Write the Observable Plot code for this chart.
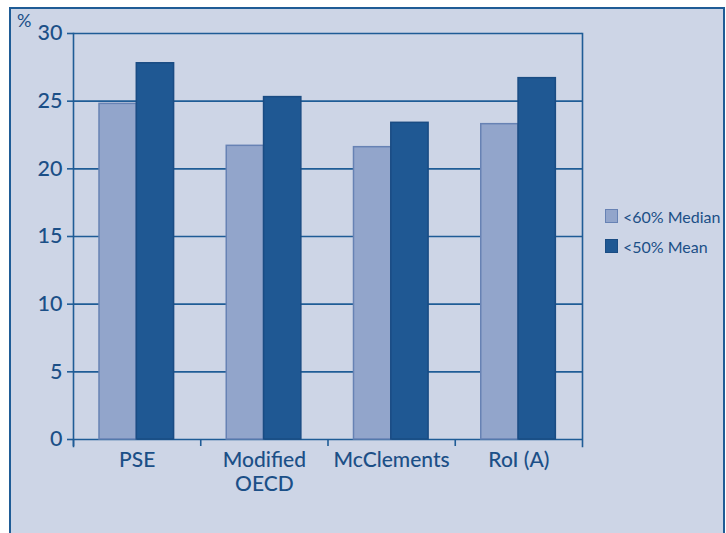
<!DOCTYPE html>
<html>
<head>
<meta charset="utf-8">
<script src="https://cdn.jsdelivr.net/npm/d3@7"></script>
<script src="https://cdn.jsdelivr.net/npm/@observablehq/plot@0.6"></script>
<style>
  html, body { margin: 0; padding: 0; background: #ffffff; overflow: hidden; width: 726px; height: 533px; }
  #panel { position: absolute; left: 9px; top: 7px; width: 712px; height: 540px; background: #CDD5E6;
           border: 2px solid #1F5C96; border-bottom: none; }
  #chart { position: absolute; left: 0; top: 0; }
  #pct { position: absolute; left: 17px; top: 9px; font: 18px Lato, sans-serif; color: #1B4F87; }
  #legend { position: absolute; left: 605px; top: 206px; font: 16px Lato, sans-serif; color: #1B4F87; }
  .item { display: flex; align-items: center; height: 20px; margin-bottom: 10px; }
  .sw { width: 11px; height: 12px; margin-right: 5px; border: 1.5px solid; }
</style>
</head>
<body>
<div id="panel"></div>
<div id="chart"></div>
<div id="pct">%</div>
<div id="legend"></div>
<script>
const categories = ["PSE", "Modified\nOECD", "McClements", "RoI (A)"];
const series = ["<60% Median", "<50% Mean"];
const median60 = [24.8, 21.7, 21.6, 23.3];
const mean50 = [27.8, 25.3, 23.4, 26.7];
const yTicks = [0, 5, 10, 15, 20, 25, 30];

const fills = ["#92A5CB", "#1F5893"];
const strokes = ["#6782B4", "#1A4C83"];
const ink = "#1B4F87";
const line = "#1F5C96";

const W = 726, H = 533, mL = 73, mR = 144, mT = 33, mB = 94;
const bw = (W - mL - mR) / categories.length;
const gap = 26, barW = 37.3;

const rows0 = categories.map((c, i) => ({category: c, series: series[0], value: median60[i]}));
const rows1 = categories.map((c, i) => ({category: c, series: series[1], value: mean50[i]}));

const chart = Plot.plot({
  width: W, height: H,
  marginLeft: mL, marginRight: mR, marginTop: mT, marginBottom: mB,
  style: {background: "transparent", fontFamily: "Lato, sans-serif", color: ink, overflow: "visible"},
  x: {domain: categories, padding: 0, round: false, label: null},
  y: {domain: [0, 30], label: null},
  marks: [
    Plot.ruleY(yTicks, {stroke: line, strokeWidth: 1.6}),
    Plot.barY(rows0, {x: "category", y: "value", fill: fills[0], stroke: strokes[0], strokeWidth: 1.5,
      insetLeft: gap, insetRight: bw - gap - barW}),
    Plot.barY(rows1, {x: "category", y: "value", fill: fills[1], stroke: strokes[1], strokeWidth: 1.5,
      insetLeft: gap + barW, insetRight: bw - gap - 2 * barW}),
    Plot.axisY({ticks: yTicks, tickSize: 6, tickPadding: 5, fontSize: 21.5, fontWeight: 500, stroke: line, fill: ink, strokeWidth: 1.6, label: null}),
    Plot.axisX({tickSize: 0, tickPadding: 11, fontSize: 21, fontWeight: 500, fill: ink, lineHeight: 1.12, label: null}),
    Plot.axisX({tickSize: 7, text: null, dx: -bw / 2, stroke: line, strokeWidth: 1.6, label: null}),
    Plot.frame({anchor: "left", stroke: line, strokeWidth: 1.6, insetBottom: -7}),
    Plot.frame({anchor: "right", stroke: line, strokeWidth: 1.6, insetBottom: -7})
  ]
});
document.getElementById("chart").appendChild(chart);

const legend = document.getElementById("legend");
series.forEach((s, i) => {
  const item = document.createElement("div");
  item.className = "item";
  const sw = document.createElement("span");
  sw.className = "sw";
  sw.style.background = fills[i];
  sw.style.borderColor = strokes[i];
  const t = document.createElement("span");
  t.textContent = s;
  item.appendChild(sw);
  item.appendChild(t);
  legend.appendChild(item);
});
</script>
</body>
</html>
